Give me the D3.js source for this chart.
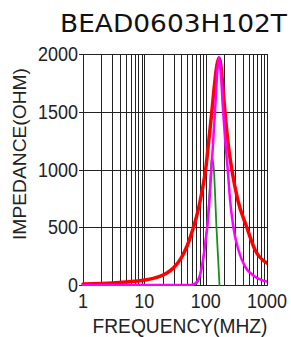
<!DOCTYPE html>
<html><head><meta charset="utf-8">
<script src="https://cdn.jsdelivr.net/npm/d3@7/dist/d3.min.js"></script>
<style>html,body{margin:0;padding:0;background:#fff;}svg{display:block;}</style>
</head><body>
<script>
const title = "BEAD0603H102T";
const xLabel = "FREQUENCY(MHZ)";
const yLabel = "IMPEDANCE(OHM)";
const freqTicks = [1, 10, 100, 1000];
const impTicks = [0, 500, 1000, 1500, 2000];

// Z (red)
const zFreq = [1,2,3,5,7,10,15,20,25,30,40,50,60,70,80,90,100,111,126,142,152,165,175,185,195,208,229,267,334,468,640,1000];
const zOhm  = [9,13,17,25,32,43,62,85,115,150,235,340,460,580,710,850,1000,1220,1500,1775,1900,1965,1920,1800,1650,1480,1256,1000,736,500,303,190];
// R (magenta)
const rFreq = [1,55,60,70,80,90,100,107,115,124,142,155,165,176,190,205,229,250,283,342,439,640,1000];
const rOhm  = [0,0,3,20,80,210,390,520,720,1000,1500,1850,1977,1850,1550,1300,1000,736,500,303,159,72,29];
// X (green)
const xFreq = [1,60,70,80,90,100,107,115,121,126,136,150,160,168];
const xOhm  = [0,0,12,70,200,390,540,780,980,1110,1000,500,220,0];

const W = 291, H = 337;
const L = 83, R = 267, T = 54, B = 285;

const svg = d3.select("body").append("svg").attr("width", W).attr("height", H);
const x = d3.scaleLog().domain([1, 1000]).range([L, R]);
const y = d3.scaleLinear().domain([0, 2000]).range([B, T]);

// grid
const minor = [];
for (let d = 1; d < 1000; d *= 10) for (let k = 1; k <= 9; k++) minor.push(d * k);
minor.push(1000);
svg.append("g").selectAll("line").data(minor).join("line")
  .attr("x1", d => Math.round(x(d)) + 0.5).attr("x2", d => Math.round(x(d)) + 0.5)
  .attr("y1", T).attr("y2", B)
  .attr("stroke", "#222").attr("stroke-width", 1);
svg.append("g").selectAll("line").data(impTicks).join("line")
  .attr("x1", L).attr("x2", R)
  .attr("y1", d => Math.round(y(d)) + 0.5).attr("y2", d => Math.round(y(d)) + 0.5)
  .attr("stroke", "#222").attr("stroke-width", 1);
svg.append("rect").attr("x", L + 0.5).attr("y", T + 0.5)
  .attr("width", R - L).attr("height", B - T)
  .attr("fill", "none").attr("stroke", "#222").attr("stroke-width", 1);

// y ticks
svg.append("g").selectAll("line").data(impTicks).join("line")
  .attr("x1", L - 4).attr("x2", L)
  .attr("y1", d => Math.round(y(d)) + 0.5).attr("y2", d => Math.round(y(d)) + 0.5)
  .attr("stroke", "#222");

svg.append("defs").append("clipPath").attr("id", "clip")
  .append("rect").attr("x", L - 2).attr("y", T - 4).attr("width", R - L + 2).attr("height", B - T + 5);

const line = d3.line().x(d => x(d[0])).y(d => y(d[1])).curve(d3.curveMonotoneX);
const g = svg.append("g").attr("clip-path", "url(#clip)");
function draw(fs, vs, color, w) {
  g.append("path").datum(fs.map((f, i) => [f, vs[i]]))
    .attr("d", line).attr("fill", "none").attr("stroke", color)
    .attr("stroke-width", w).attr("stroke-linejoin", "round").attr("stroke-linecap", "round");
}
draw(zFreq, zOhm, "#ff0000", 3.5);
draw(xFreq, xOhm, "#1a8f1a", 1.8);
draw(rFreq, rOhm, "#ff00ff", 2.5);

const font = "'Liberation Sans', Arial, sans-serif";
// y tick labels
svg.append("g").selectAll("text").data(impTicks).join("text")
  .attr("x", 78).attr("y", d => y(d) + 7)
  .attr("text-anchor", "end").attr("font-family", font).attr("font-size", 20)
  .attr("fill", "#222")
  .attr("textLength", d => String(d).length * 10).attr("lengthAdjust", "spacingAndGlyphs")
  .text(d => d);
// x tick labels
svg.append("g").selectAll("text").data(freqTicks).join("text")
  .attr("x", d => x(d)).attr("y", 308)
  .attr("text-anchor", "middle").attr("font-family", font).attr("font-size", 20)
  .attr("fill", "#222")
  .attr("textLength", d => String(d).length * 10).attr("lengthAdjust", "spacingAndGlyphs")
  .text(d => d);
// axis labels
svg.append("text").attr("x", 180).attr("y", 333)
  .attr("text-anchor", "middle").attr("font-family", font).attr("font-size", 20)
  .attr("fill", "#222").attr("textLength", 175).attr("lengthAdjust", "spacingAndGlyphs")
  .text(xLabel);
svg.append("text").attr("transform", "translate(26,154) rotate(-90)")
  .attr("text-anchor", "middle").attr("font-family", font).attr("font-size", 19)
  .attr("fill", "#222").attr("textLength", 172).attr("lengthAdjust", "spacingAndGlyphs")
  .text(yLabel);
// title
svg.append("text").attr("x", 287).attr("y", 32)
  .attr("text-anchor", "end").attr("font-family", "'DejaVu Sans', Verdana, sans-serif").attr("font-size", 25)
  .attr("fill", "#111").attr("textLength", 227).attr("lengthAdjust", "spacingAndGlyphs")
  .text(title);
</script>
</body></html>
